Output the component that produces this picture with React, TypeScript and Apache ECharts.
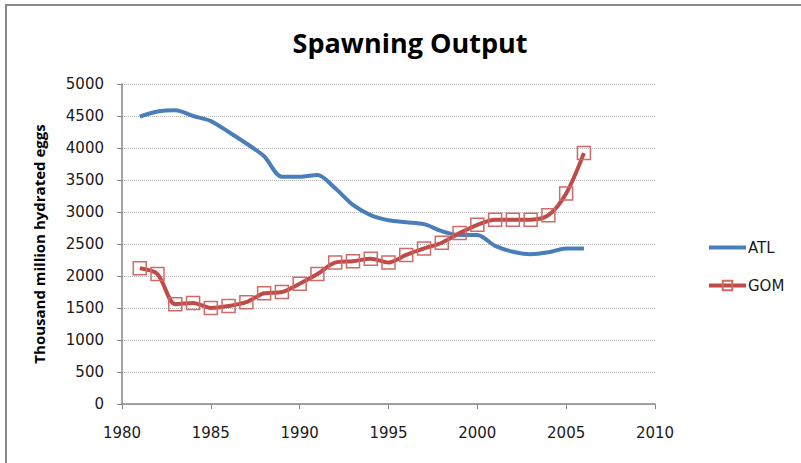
import React, { useEffect, useRef } from "react";
import * as echarts from "echarts";

const years = [1981, 1982, 1983, 1984, 1985, 1986, 1987, 1988, 1989, 1990, 1991, 1992, 1993, 1994, 1995, 1996, 1997, 1998, 1999, 2000, 2001, 2002, 2003, 2004, 2005, 2006];
const atl = [4490, 4570, 4590, 4500, 4420, 4250, 4070, 3870, 3550, 3550, 3580, 3370, 3110, 2950, 2870, 2840, 2810, 2700, 2640, 2640, 2470, 2380, 2340, 2370, 2430, 2430];
const gom = [2120, 2030, 1560, 1580, 1500, 1530, 1590, 1730, 1750, 1880, 2030, 2210, 2230, 2270, 2210, 2330, 2430, 2520, 2670, 2800, 2880, 2880, 2880, 2950, 3290, 3920];
const seriesNames = ["ATL", "GOM"];
const title = "Spawning Output";
const yAxisName = "Thousand million hydrated eggs";

export default function App() {
  const ref = useRef<HTMLDivElement>(null);
  useEffect(() => {
    document.body.style.margin = "0";
    const chart = echarts.init(ref.current!, null, { renderer: "svg" });
    const tickFont = { fontFamily: "DejaVu Sans", fontSize: 15, color: "#1a1a1a" };
    chart.setOption({
      animation: false,
      backgroundColor: "#ffffff",
      title: {
        text: title,
        left: 405,
        textAlign: "center",
        top: 24,
        textStyle: { fontFamily: "Open Sans", fontWeight: "bold", fontSize: 27, color: "#000" },
      },
      graphic: [
        {
          type: "rect",
          shape: { x: 6, y: 5, width: 900, height: 600 },
          style: { fill: "none", stroke: "#898989", lineWidth: 2 },
          silent: true,
        },
      ],
      legend: {
        orient: "vertical",
        left: 702,
        top: 235,
        itemWidth: 37,
        itemHeight: 12,
        itemGap: 23,
        data: [
          { name: seriesNames[0], itemStyle: { opacity: 0 }, lineStyle: { width: 4, color: "#4a7ebb" } },
          { name: seriesNames[1], lineStyle: { width: 4, color: "#be4b48" } },
        ],
        textStyle: { fontFamily: "DejaVu Sans", fontSize: 15, color: "#1a1a1a", padding: [0, 0, 0, -3] },
      },
      grid: { left: 122, right: 146, top: 84, bottom: 59, containLabel: false },
      xAxis: {
        type: "value",
        min: 1980,
        max: 2010,
        interval: 5,
        axisLine: { lineStyle: { color: "#868686", width: 1.5 } },
        axisTick: { show: true, length: 5, lineStyle: { color: "#868686" } },
        axisLabel: { ...tickFont, margin: 21, formatter: (v: number) => String(v) },
        splitLine: { show: false },
      },
      yAxis: {
        type: "value",
        min: 0,
        max: 5000,
        interval: 500,
        name: yAxisName,
        nameLocation: "middle",
        nameGap: 76,
        nameTextStyle: { fontFamily: "Open Sans", fontWeight: "bold", fontSize: 15, color: "#000" },
        axisLine: { show: true, lineStyle: { color: "#868686", width: 1.5 } },
        axisTick: { show: true, length: 5, lineStyle: { color: "#868686" } },
        axisLabel: { ...tickFont, margin: 18, formatter: (v: number) => String(v) },
        splitLine: { show: true, lineStyle: { color: "#b8b8b8", type: [1, 1], width: 1 } },
      },
      series: [
        {
          name: seriesNames[0],
          type: "line",
          data: years.map((y, i) => [y, atl[i]]),
          smooth: 0.3,
          showSymbol: false,
          symbol: "none",
          lineStyle: { color: "#4a7ebb", width: 4 },
          itemStyle: { color: "#4a7ebb" },
        },
        {
          name: seriesNames[1],
          type: "line",
          data: years.map((y, i) => [y, gom[i]]),
          smooth: 0.3,
          symbol: "rect",
          symbolSize: 13,
          lineStyle: { color: "#be4b48", width: 4 },
          itemStyle: { color: "rgba(255,255,255,0)", borderColor: "#d06a67", borderWidth: 1.5 },
        },
      ],
    });
    return () => chart.dispose();
  }, []);
  return <div ref={ref} style={{ width: 801, height: 463 }} />;
}
